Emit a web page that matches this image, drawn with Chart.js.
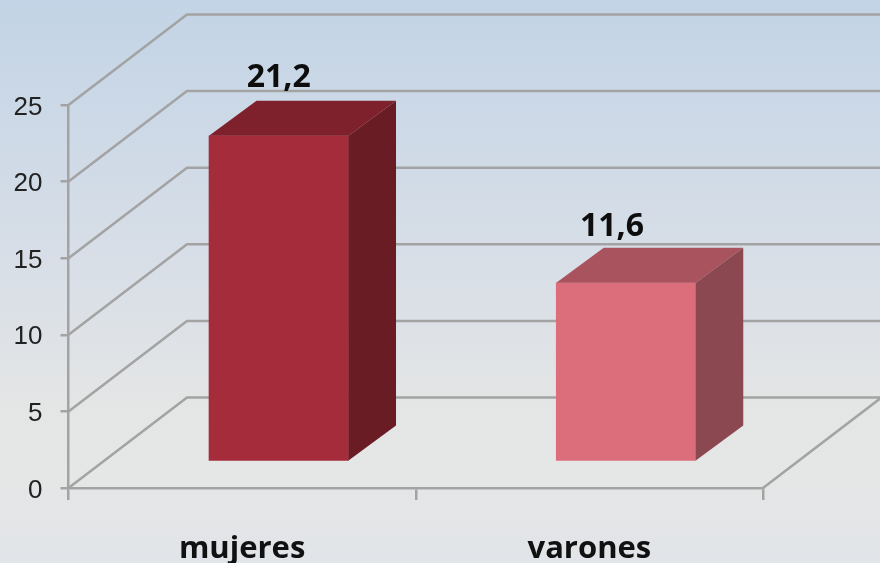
<!DOCTYPE html>
<html><head><meta charset="utf-8">
<style>
html,body{margin:0;padding:0;background:#e3e5e7;overflow:hidden}
canvas{display:block;filter:blur(0.6px)}
</style>
<script src="https://cdn.jsdelivr.net/npm/chart.js@4"></script>
</head><body><canvas id="c" width="880" height="563"></canvas>
<script>
const categories = ["mujeres", "varones"];
const values = [21.2, 11.6];
const valueLabels = ["21,2", "11,6"];
const frontColors = ["#a52c3b", "#dc6d7b"];
const sideColors = ["#6a1c24", "#8c4850"];
const topColors = ["#7f212c", "#a8535d"];

const GRID = "#a3a3a3";
const wallDepth = {x: 118.5, y: -90.5};
const barDepth = {x: 47.5, y: -35};
const labelShift = [{x: 0, y: -58}, {x: -14, y: -56}];

const scene = {
  id: "scene",
  beforeDraw(chart) {
    const {ctx, width, height} = chart;
    const g = ctx.createLinearGradient(0, 0, 0, height);
    g.addColorStop(0, "#c3d4e6");
    g.addColorStop(0.45, "#d7dee7");
    g.addColorStop(0.72, "#e4e5e5");
    g.addColorStop(0.85, "#e5e6e6");
    g.addColorStop(1, "#e1e4e8");
    ctx.fillStyle = g;
    ctx.fillRect(0, 0, width, height);
  },
  beforeDatasetsDraw(chart) {
    const {ctx, scales: {x, y}} = chart;
    const left = x.left, right = x.right;
    ctx.save();
    ctx.strokeStyle = GRID;
    ctx.lineWidth = 2.5;
    ctx.lineJoin = "round";
    y.ticks.forEach(t => {
      const py = y.getPixelForValue(t.value);
      ctx.beginPath();
      ctx.moveTo(left, py);
      ctx.lineTo(left + wallDepth.x, py + wallDepth.y);
      ctx.lineTo(right + wallDepth.x, py + wallDepth.y);
      ctx.stroke();
    });
    const py0 = y.getPixelForValue(0);
    ctx.beginPath();
    ctx.moveTo(right, py0);
    ctx.lineTo(right + wallDepth.x, py0 + wallDepth.y);
    ctx.stroke();
    ctx.restore();
  },
  afterDatasetsDraw(chart) {
    const {ctx} = chart;
    const bars = chart.getDatasetMeta(0).data;
    ctx.save();
    bars.forEach((b, i) => {
      const l = b.x - b.width / 2, r = b.x + b.width / 2, t = b.y, bt = b.base;
      ctx.fillStyle = topColors[i];
      ctx.beginPath();
      ctx.moveTo(l, t);
      ctx.lineTo(l + barDepth.x, t + barDepth.y);
      ctx.lineTo(r + barDepth.x, t + barDepth.y);
      ctx.lineTo(r, t);
      ctx.closePath();
      ctx.fill();
      ctx.fillStyle = sideColors[i];
      ctx.beginPath();
      ctx.moveTo(r, t);
      ctx.lineTo(r + barDepth.x, t + barDepth.y);
      ctx.lineTo(r + barDepth.x, bt + barDepth.y);
      ctx.lineTo(r, bt);
      ctx.closePath();
      ctx.fill();
      ctx.fillStyle = "#0d0d0d";
      ctx.font = "bold 32px 'Open Sans'";
      ctx.textAlign = "center";
      ctx.textBaseline = "middle";
      ctx.fillText(valueLabels[i], b.x + labelShift[i].x, t + labelShift[i].y);
    });
    ctx.restore();
  }
};

new Chart(document.getElementById("c"), {
  type: "bar",
  data: {
    labels: categories,
    datasets: [{
      data: values.map((v, i) => ({x: i, y: v})),
      xAxisID: "x2",
      yAxisID: "y2",
      backgroundColor: frontColors,
      borderWidth: 0,
      barThickness: 139.5
    }]
  },
  options: {
    responsive: false,
    animation: false,
    layout: {padding: {top: 105, right: 117, left: 0, bottom: 0}},
    plugins: {legend: {display: false}, tooltip: {enabled: false}},
    scales: {
      x: {
        type: "category",
        position: "bottom",
        afterFit(s) { s.height = 75; },
        offset: true,
        grid: {drawOnChartArea: false, drawTicks: true, tickLength: 12, color: GRID, lineWidth: 2.5, offset: true},
        border: {color: GRID, width: 2.5},
        ticks: {color: "#111", padding: 31, maxRotation: 0, font: {family: "'Open Sans'", weight: "bold", size: 31}}
      },
      y: {
        type: "linear",
        position: "left",
        min: 0, max: 25,
        afterFit(s) { s.width = 68.5; },
        grid: {drawOnChartArea: false, drawTicks: true, tickLength: 8, color: GRID, lineWidth: 2.5},
        border: {color: GRID, width: 2.5},
        ticks: {stepSize: 5, color: "#222", padding: 18, labelOffset: 2.5, font: {family: "'Liberation Sans'", size: 26}}
      },
      x2: {type: "linear", axis: "x", display: false, offset: false, grid: {offset: false}, min: -0.6055, max: 1.3945},
      y2: {type: "linear", axis: "y", display: false, min: -1.795, max: 23.205}
    }
  },
  plugins: [scene]
});
</script></body></html>
